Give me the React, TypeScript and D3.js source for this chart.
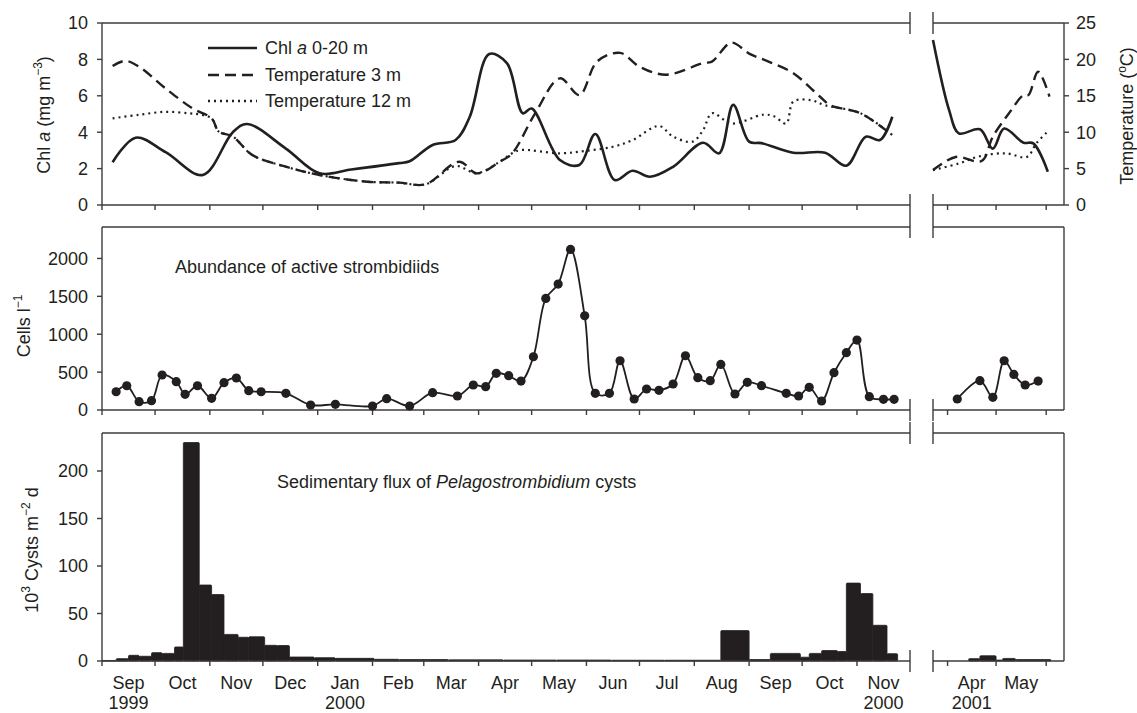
import React from "react";
import * as d3 from "d3";

// ---- data ----
const chlLeft: [string, number][] = [
  ["1999-09-07", 2.35], ["1999-09-20", 3.7], ["1999-10-07", 2.9], ["1999-10-28", 1.65],
  ["1999-11-14", 4.0], ["1999-11-22", 4.45], ["1999-12-14", 3.1], ["2000-01-02", 1.74],
  ["2000-01-20", 1.95], ["2000-02-16", 2.3], ["2000-02-22", 2.4], ["2000-03-06", 3.3],
  ["2000-03-19", 3.57], ["2000-03-27", 4.85], ["2000-04-07", 8.3], ["2000-04-17", 7.8],
  ["2000-04-26", 5.04], ["2000-05-01", 5.3], ["2000-05-17", 2.47], ["2000-05-28", 2.2],
  ["2000-06-06", 3.9], ["2000-06-17", 1.37], ["2000-06-27", 1.88], ["2000-07-07", 1.55],
  ["2000-07-20", 2.1], ["2000-08-06", 3.42], ["2000-08-15", 2.84], ["2000-08-23", 5.5],
  ["2000-09-01", 3.48], ["2000-09-08", 3.4], ["2000-09-26", 2.87], ["2000-10-14", 2.87],
  ["2000-10-26", 2.16], ["2000-11-06", 3.75], ["2000-11-14", 3.57], ["2000-11-21", 4.85],
];
const chlRight: [string, number][] = [
  ["2001-03-23", 9.07], ["2001-04-02", 5.2], ["2001-04-08", 3.94], ["2001-04-21", 4.16],
  ["2001-04-29", 3.1], ["2001-05-06", 4.2], ["2001-05-18", 3.42], ["2001-05-24", 3.39],
  ["2001-06-02", 1.83],
];
const temp3Left: [string, number][] = [
  ["1999-09-07", 19.1], ["1999-09-14", 19.8], ["1999-09-22", 19.0], ["1999-10-07", 16.0],
  ["1999-10-22", 13.3], ["1999-11-02", 11.9], ["1999-11-06", 10.1], ["1999-11-14", 9.4],
  ["1999-11-25", 6.87], ["1999-12-14", 5.26], ["2000-01-02", 4.12], ["2000-01-29", 3.2],
  ["2000-02-16", 3.07], ["2000-03-02", 2.84], ["2000-03-21", 5.95], ["2000-03-31", 4.35],
  ["2000-04-13", 5.95], ["2000-04-20", 7.1], ["2000-05-03", 12.6], ["2000-05-17", 17.4],
  ["2000-05-28", 15.1], ["2000-06-07", 19.7], ["2000-06-20", 20.9], ["2000-07-01", 19.0],
  ["2000-07-16", 17.9], ["2000-08-06", 19.5], ["2000-08-11", 19.7], ["2000-08-22", 22.3],
  ["2000-09-01", 20.8], ["2000-09-12", 19.7], ["2000-09-26", 18.1], ["2000-10-11", 14.9],
  ["2000-10-17", 13.7], ["2000-11-03", 12.6], ["2000-11-21", 9.6],
];
const temp3Right: [string, number][] = [
  ["2001-03-23", 4.8], ["2001-04-06", 6.6], ["2001-04-22", 6.04], ["2001-04-29", 9.4],
  ["2001-05-09", 12.6], ["2001-05-18", 15.1], ["2001-05-21", 15.1], ["2001-05-27", 18.3],
  ["2001-06-03", 14.9],
];
const temp12Left: [string, number][] = [
  ["1999-09-07", 11.9], ["1999-09-22", 12.4], ["1999-10-07", 12.8], ["1999-10-20", 12.6],
  ["1999-10-27", 12.4], ["1999-11-02", 11.9], ["1999-11-06", 10.1], ["1999-11-14", 9.4],
  ["1999-11-25", 6.87], ["1999-12-14", 5.26], ["2000-01-02", 4.12], ["2000-01-29", 3.2],
  ["2000-02-16", 3.07], ["2000-03-02", 2.84], ["2000-03-19", 5.36], ["2000-03-31", 4.35],
  ["2000-04-13", 5.95], ["2000-04-20", 7.1], ["2000-04-25", 7.55], ["2000-05-17", 7.1],
  ["2000-06-01", 7.46], ["2000-06-16", 8.0], ["2000-06-27", 8.9], ["2000-07-12", 10.85],
  ["2000-07-20", 9.4], ["2000-07-31", 8.7], ["2000-08-06", 10.3], ["2000-08-11", 12.6],
  ["2000-08-22", 11.2], ["2000-09-09", 12.4], ["2000-09-15", 12.2], ["2000-09-22", 11.2],
  ["2000-09-26", 14.2], ["2000-10-06", 14.4], ["2000-10-14", 13.7], ["2000-11-03", 12.6],
  ["2000-11-21", 9.6],
];
const temp12Right: [string, number][] = [
  ["2001-03-23", 4.8], ["2001-04-08", 5.7], ["2001-04-21", 6.7], ["2001-05-07", 7.1],
  ["2001-05-20", 6.6], ["2001-05-26", 8.5], ["2001-06-02", 10.1],
];

const cellsLeft: [string, number][] = [
  ["1999-09-09", 241], ["1999-09-15", 320], ["1999-09-22", 110], ["1999-09-29", 123],
  ["1999-10-05", 462], ["1999-10-13", 374], ["1999-10-18", 207], ["1999-10-25", 320],
  ["1999-11-02", 154], ["1999-11-09", 360], ["1999-11-16", 422], ["1999-11-23", 255],
  ["1999-11-30", 241], ["1999-12-14", 220], ["1999-12-28", 66], ["2000-01-11", 75],
  ["2000-02-01", 53], ["2000-02-09", 150], ["2000-02-22", 53], ["2000-03-06", 228],
  ["2000-03-20", 185], ["2000-03-29", 330], ["2000-04-05", 308], ["2000-04-11", 484],
  ["2000-04-18", 453], ["2000-04-25", 382], ["2000-05-02", 703], ["2000-05-09", 1473],
  ["2000-05-16", 1662], ["2000-05-23", 2119], ["2000-05-31", 1244], ["2000-06-06", 220],
  ["2000-06-14", 220], ["2000-06-20", 650], ["2000-06-28", 145], ["2000-07-05", 277],
  ["2000-07-12", 260], ["2000-07-20", 343], ["2000-07-27", 716], ["2000-08-03", 426],
  ["2000-08-10", 387], ["2000-08-16", 602], ["2000-08-24", 211], ["2000-08-31", 365],
  ["2000-09-08", 321], ["2000-09-22", 220], ["2000-09-29", 185], ["2000-10-05", 299],
  ["2000-10-12", 119], ["2000-10-19", 492], ["2000-10-26", 756], ["2000-11-01", 923],
  ["2000-11-08", 176], ["2000-11-16", 141], ["2000-11-22", 141],
];
const cellsRight: [string, number][] = [
  ["2001-04-07", 145], ["2001-04-21", 387], ["2001-04-29", 167], ["2001-05-06", 650],
  ["2001-05-12", 470], ["2001-05-19", 330], ["2001-05-27", 382],
];

// trap periods (edges) and flux values (10^3 cysts m-2 d-1)
const fluxLeftEdges = [
  "1999-09-01", "1999-09-09", "1999-09-16", "1999-09-22", "1999-09-29", "1999-10-05",
  "1999-10-12", "1999-10-17", "1999-10-26", "1999-11-02", "1999-11-09", "1999-11-17",
  "1999-11-23", "1999-12-02", "1999-12-09", "1999-12-16", "1999-12-30", "2000-01-11",
  "2000-02-02", "2000-02-16", "2000-03-15", "2000-04-15", "2000-05-15", "2000-06-15",
  "2000-07-15", "2000-08-16", "2000-09-01", "2000-09-13", "2000-09-30", "2000-10-05",
  "2000-10-12", "2000-10-21", "2000-10-26", "2000-11-03", "2000-11-10", "2000-11-18",
  "2000-11-24",
];
const fluxLeftValues = [
  0.5, 2.5, 6, 5, 8.8, 8, 14.8, 230, 80, 70, 28, 25, 25.5, 16.5, 16.3, 4.2, 3.5, 2.8,
  1.8, 1.5, 1.2, 1.0, 1.0, 0.8, 0.8, 32, 1.5, 8, 4, 8, 11, 10, 82, 71, 37.6, 7.7,
];
const fluxRightEdges = ["2001-04-14", "2001-04-21", "2001-05-01", "2001-05-05", "2001-05-13", "2001-06-04"];
const fluxRightValues = [2.5, 5.5, 1, 2.7, 1.5];

const chlTicks = [0, 2, 4, 6, 8, 10];
const tempTicks = [0, 5, 10, 15, 20, 25];
const cellTicks = [0, 500, 1000, 1500, 2000];
const fluxTicks = [0, 50, 100, 150, 200];
const yearLabels: [string, string][] = [
  ["1999-09-01", "1999"], ["2000-01-01", "2000"], ["2000-11-01", "2000"], ["2001-04-01", "2001"],
];

// ---- layout ----
const W = 1137, H = 713;
const X0 = 102, XB1 = 910, XB2 = 933, X1 = 1064;
const ink = "#231f20";
const frame = "#3c3c3c";
const font = "'Liberation Sans', Arial, Helvetica, sans-serif";
const fs = 18;

const parse = d3.timeParse("%Y-%m-%d") as (s: string) => Date;
const pts = (a: [string, number][]) => a.map(([d, v]) => [parse(d), v] as [Date, number]);

const xL = d3.scaleTime().domain([new Date(1999, 8, 1), new Date(2000, 11, 1)]).range([X0, XB1]);
const xR = d3.scaleTime().domain([new Date(2001, 2, 23), new Date(2001, 5, 12)]).range([XB2, X1]);

const yChl = d3.scaleLinear().domain([0, 10]).range([205, 23]);
const yTemp = d3.scaleLinear().domain([0, 25]).range([205, 23]);
const yCells = d3.scaleLinear().domain([0, 2415]).range([410, 227]);
const yFlux = d3.scaleLinear().domain([0, 240]).range([661, 433]);

const monthsL = d3.timeMonth.range(new Date(1999, 8, 1), new Date(2000, 11, 1));
const monthsR = [new Date(2001, 3, 1), new Date(2001, 4, 1), new Date(2001, 5, 1)];
const fmtMonth = d3.timeFormat("%b");

const smooth = (x: any, y: any) =>
  d3.line<[Date, number]>().x((d) => x(d[0])).y((d) => y(d[1])).curve(d3.curveCatmullRom.alpha(0.5));

const Panel = ({ y0, y1 }: { y0: number; y1: number }) => (
  <g stroke={frame} strokeWidth={1.4} fill="none">
    <line x1={X0} y1={y0} x2={XB1} y2={y0} />
    <line x1={X0} y1={y1} x2={XB1} y2={y1} />
    <line x1={XB2} y1={y0} x2={X1} y2={y0} />
    <line x1={XB2} y1={y1} x2={X1} y2={y1} />
    <line x1={X0} y1={y0} x2={X0} y2={y1} />
    <line x1={X1} y1={y0} x2={X1} y2={y1} />
    {[XB1, XB2].map((bx) => (
      <g key={bx}>
        <line x1={bx} y1={y0 - 11} x2={bx} y2={y0 + 11} />
        <line x1={bx} y1={y1 - 11} x2={bx} y2={y1 + 11} />
      </g>
    ))}
    {monthsL.map((m, i) => (
      <line key={"l" + i} x1={xL(m)} y1={y1} x2={xL(m)} y2={y1 + 5} />
    ))}
    {monthsR.map((m, i) => (
      <line key={"r" + i} x1={xR(m)} y1={y1} x2={xR(m)} y2={y1 + 5} />
    ))}
  </g>
);

const LeftAxis = ({ scale, ticks }: { scale: any; ticks: number[] }) => (
  <g>
    {ticks.map((t) => (
      <g key={t}>
        <line x1={X0 - 5} y1={scale(t)} x2={X0} y2={scale(t)} stroke={frame} strokeWidth={1.4} />
        <text x={X0 - 14} y={scale(t)} dy="0.36em" textAnchor="end" fontSize={fs} fill={ink}>{t}</text>
      </g>
    ))}
  </g>
);

export default function App() {
  const chlL = smooth(xL, yChl)(pts(chlLeft)) || "";
  const chlR = smooth(xR, yChl)(pts(chlRight)) || "";
  const t3L = smooth(xL, yTemp)(pts(temp3Left)) || "";
  const t3R = smooth(xR, yTemp)(pts(temp3Right)) || "";
  const t12L = smooth(xL, yTemp)(pts(temp12Left)) || "";
  const t12R = smooth(xR, yTemp)(pts(temp12Right)) || "";
  const cL = pts(cellsLeft);
  const cR = pts(cellsRight);
  const cellsPathL = smooth(xL, yCells)(cL) || "";
  const cellsPathR = smooth(xR, yCells)(cR) || "";

  const bars = (edges: string[], values: number[], x: any) =>
    values.map((v, i) => {
      const a = x(parse(edges[i]));
      const b = x(parse(edges[i + 1]));
      return (
        <rect key={i} x={a} y={yFlux(v)} width={b - a} height={yFlux(0) - yFlux(v)}
          fill={ink} stroke={ink} strokeWidth={0.8} rx={1} />
      );
    });

  const legend = [
    { label: <>Chl <tspan fontStyle="italic">a</tspan> 0-20 m</>, dash: "none", y: 48 },
    { label: <>Temperature 3 m</>, dash: "11,6", y: 75 },
    { label: <>Temperature 12 m</>, dash: "2,4", y: 101 },
  ];

  return (
    <svg width={W} height={H} style={{ position: "absolute", left: 0, top: 0, background: "#fff" }}
      fontFamily={font}>
      {/* top panel */}
      <Panel y0={23} y1={205} />
      <LeftAxis scale={yChl} ticks={chlTicks} />
      {tempTicks.map((t) => (
        <g key={t}>
          <line x1={X1} y1={yTemp(t)} x2={X1 + 5} y2={yTemp(t)} stroke={frame} strokeWidth={1.4} />
          <text x={X1 + 12} y={yTemp(t)} dy="0.36em" fontSize={fs} fill={ink}>{t}</text>
        </g>
      ))}
      <g fill="none" stroke={ink}>
        <path d={t3L} strokeWidth={2.4} strokeDasharray="11,6" />
        <path d={t3R} strokeWidth={2.4} strokeDasharray="11,6" />
        <path d={t12L} strokeWidth={2.2} strokeDasharray="2,4" />
        <path d={t12R} strokeWidth={2.2} strokeDasharray="2,4" />
        <path d={chlL} strokeWidth={2.6} />
        <path d={chlR} strokeWidth={2.6} />
      </g>
      {legend.map((l, i) => (
        <g key={i}>
          <line x1={208} x2={257} y1={l.y} y2={l.y} stroke={ink} strokeWidth={2.4}
            strokeDasharray={l.dash} />
          <text x={265} y={l.y} dy="0.36em" fontSize={fs} fill={ink}>{l.label}</text>
        </g>
      ))}
      <text transform="translate(50,115) rotate(-90)" textAnchor="middle" fontSize={fs} fill={ink}>
        Chl <tspan fontStyle="italic">a</tspan> (mg  m<tspan dy={-8} fontSize={12}>−3</tspan><tspan dy={8}>)</tspan>
      </text>
      <text transform="translate(1133,116) rotate(-90)" textAnchor="middle" fontSize={fs} fill={ink}>
        Temperature (<tspan dy={-7} fontSize={12}>o</tspan><tspan dy={7}>C)</tspan>
      </text>

      {/* middle panel */}
      <Panel y0={227} y1={410} />
      <LeftAxis scale={yCells} ticks={cellTicks} />
      <path d={cellsPathL} fill="none" stroke={ink} strokeWidth={1.8} />
      <path d={cellsPathR} fill="none" stroke={ink} strokeWidth={1.8} />
      {cL.concat(cR).map((d, i) => {
        const x = d[0] < new Date(2001, 0, 1) ? xL(d[0]) : xR(d[0]);
        return <circle key={i} cx={x} cy={yCells(d[1])} r={4.6} fill={ink} />;
      })}
      <text x={175} y={273} fontSize={fs} fill={ink}>Abundance of active strombidiids</text>
      <text transform="translate(30,326) rotate(-90)" textAnchor="middle" fontSize={fs} fill={ink}>
        Cells l<tspan dy={-8} fontSize={12}>−1</tspan>
      </text>

      {/* bottom panel */}
      {bars(fluxLeftEdges, fluxLeftValues, xL)}
      {bars(fluxRightEdges, fluxRightValues, xR)}
      <Panel y0={433} y1={661} />
      <LeftAxis scale={yFlux} ticks={fluxTicks} />
      <text x={277} y={488} fontSize={fs} fill={ink}>
        Sedimentary flux of <tspan fontStyle="italic">Pelagostrombidium</tspan> cysts
      </text>
      <text transform="translate(38,550) rotate(-90)" textAnchor="middle" fontSize={fs} fill={ink}>
        10<tspan dy={-8} fontSize={12}>3</tspan><tspan dy={8}> Cysts m</tspan><tspan dy={-8} fontSize={12}>−2</tspan><tspan dy={8}> d</tspan>
      </text>

      {/* month / year labels */}
      {monthsL.map((m, i) => {
        const next = d3.timeMonth.offset(m, 1);
        return (
          <text key={"ml" + i} x={(xL(m) + xL(next)) / 2} y={689} textAnchor="middle" fontSize={fs} fill={ink}>
            {fmtMonth(m)}
          </text>
        );
      })}
      {monthsR.slice(0, 2).map((m, i) => (
        <text key={"mr" + i} x={(xR(m) + xR(monthsR[i + 1])) / 2} y={689} textAnchor="middle" fontSize={fs} fill={ink}>
          {fmtMonth(m)}
        </text>
      ))}
      {yearLabels.map(([d, label], i) => {
        const m = parse(d);
        const x = m < new Date(2001, 0, 1) ? xL : xR;
        return (
          <text key={"y" + i} x={(x(m) + x(d3.timeMonth.offset(m, 1))) / 2} y={709} textAnchor="middle" fontSize={fs} fill={ink}>
            {label}
          </text>
        );
      })}
    </svg>
  );
}
